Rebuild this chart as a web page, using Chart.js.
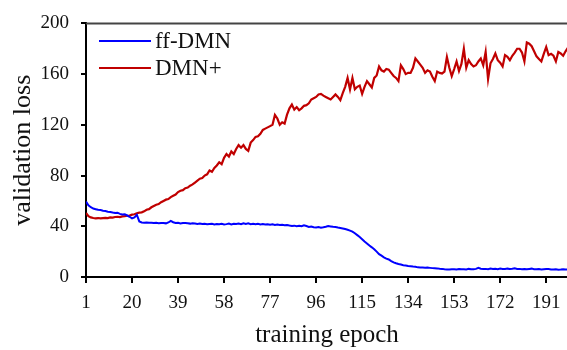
<!DOCTYPE html>
<html>
<head>
<meta charset="utf-8">
<script src="https://cdn.jsdelivr.net/npm/chart.js@4"></script>
<style>
html,body{margin:0;padding:0;background:#fff;overflow:hidden;width:567px;height:350px;}
canvas{display:block;}
</style>
</head>
<body>
<canvas id="c" width="575" height="360"></canvas>
<script>
const epochs = Array.from({length: 200}, (_, i) => i + 1);
const xTickValues = [1, 20, 39, 58, 77, 96, 115, 134, 153, 172, 191];
const yTickValues = [0, 40, 80, 120, 160, 200];
const seriesNames = ["ff-DMN", "DMN+"];

const ffDMN = [
59.5,56.5,55,54,53.5,53,52.8,52.2,52,51.5,
51.3,50.8,50.5,50.7,49.8,49.3,49.5,48.5,47.5,46.2,
47,49,43.8,43,42.8,43,42.7,42.8,42.5,42.7,
42.4,42.6,42.5,42.3,43,44.3,43.2,42.6,42.8,42.2,
42.6,42.5,42.3,42.1,42.4,42.2,41.9,42.1,41.8,41.9,
41.6,41.8,42,41.5,41.8,41.6,41.9,41.5,41.7,42.2,
41.5,42,41.8,42.1,41.6,42.4,41.8,42.3,41.7,41.9,
41.6,42,41.5,41.7,41.4,41.6,41.2,41.5,41,41.3,
41,41.2,40.8,41,40.6,40.3,40.5,40.1,40.4,40,
40.8,40.2,39.5,39.8,39.3,39.1,39.4,38.9,39.2,39.6,
40.2,39.9,39.6,39.4,39,38.7,38.3,37.8,37.3,36.6,
35.8,34.5,33,31.5,29.8,28,26.5,24.8,23.4,21.8,
20,18,16.8,15.5,14.5,13.8,12.5,11.5,10.8,10.2,
9.8,9.3,9,8.7,8.5,8.2,8,7.6,7.5,7.4,
7.3,7.4,7.2,7,6.9,6.8,6.5,6.4,6.1,6,
6,6.2,6.1,6,6.3,6.1,6.2,6,6.4,6.2,
6.1,6.4,7.2,6.5,6.3,6.4,6.1,6.6,6.3,6.5,
6.2,6.7,6.4,6.3,6.6,6.4,6.5,6.8,6.3,6.4,
6.1,6.3,6.2,6.4,6.6,6.2,6.1,6.3,6,6.2,
6.4,6.3,6,5.9,6.1,5.8,5.9,6.1,5.9,6
];

const dmnPlus = [
50.5,48,47,46.5,46.3,46.5,46.2,46.4,46.6,46.5,
47,46.8,47.3,47.5,47.2,47.8,48,48.3,48.5,49.2,
49.5,50.3,50.8,51,51.8,53,53.5,55,56,57,
57.5,59,60,61,61.5,63,64,65,67,68,
68.5,70,70.5,72,73,74.5,76,77.5,78,80,
81,84,83,86,88,90.5,89,94,97,95,
99,97,101,104,102,104,101,99.5,106,108,
110.5,111,113,116,117,118,119,120,127.8,125,
120,122,121,128,133,136,132,134,131.5,133,
135,135.5,137,140,141,142,144,144.4,143,142,
141,140,142,144,142,139.5,145,150,157,148,
157,148,150,151,144.5,150,154.5,152,149.5,157,
159,166,163,162,164,163.5,161,158.5,157,154.5,
167,164,160,161,161,165,172.4,170,167.5,165,
161,163,162,158,154.5,162,161,160.5,162,173.5,
165,158.5,164,170,162.5,168,180,165,171,168,
166,167,170,172.4,167,177.5,156,168.5,172,176.3,
171,169,166,175,173.7,171,174.5,177,180,180,
177,170,185,184,182,178,174,172,170,176,
181.4,175,176,174.5,170,177.5,176.3,174.5,178,181
];

const seriesColors = ["#0000FF", "#C00000"];
const FONT = "'Liberation Serif', 'Times New Roman', serif";

const legendInside = {
  id: 'legendInside',
  afterDraw(chart) {
    const ctx = chart.ctx;
    ctx.save();
    chart.data.datasets.forEach((ds, i) => {
      const y = 41 + i * 27;
      ctx.strokeStyle = ds.borderColor;
      ctx.lineWidth = 2;
      ctx.beginPath();
      ctx.moveTo(99, y);
      ctx.lineTo(151, y);
      ctx.stroke();
      ctx.fillStyle = '#111';
      ctx.font = "23px " + FONT;
      ctx.textBaseline = 'middle';
      ctx.textAlign = 'left';
      ctx.fillText(ds.label, 155, y + 1);
    });
    ctx.restore();
  }
};

const topBorder = {
  id: 'topBorder',
  afterDraw(chart) {
    const {ctx, chartArea} = chart;
    ctx.save();
    ctx.strokeStyle = '#444';
    ctx.lineWidth = 2;
    ctx.beginPath();
    ctx.moveTo(chartArea.left, chartArea.top);
    ctx.lineTo(chartArea.right, chartArea.top);
    ctx.lineTo(chartArea.right, chartArea.bottom);
    ctx.stroke();
    ctx.restore();
  }
};

new Chart(document.getElementById('c'), {
  type: 'line',
  data: {
    datasets: [
      {
        label: seriesNames[0],
        data: epochs.map((e, i) => ({x: e, y: ffDMN[i]})),
        borderColor: seriesColors[0],
        borderWidth: 2,
        pointRadius: 0,
        tension: 0,
        fill: false
      },
      {
        label: seriesNames[1],
        data: epochs.map((e, i) => ({x: e, y: dmnPlus[i]})),
        borderColor: seriesColors[1],
        borderWidth: 2.2,
        pointRadius: 0,
        tension: 0,
        fill: false
      }
    ]
  },
  options: {
    responsive: false,
    animation: false,
    events: [],
    layout: {padding: {top: 15, right: 7, left: 0, bottom: 0}},
    plugins: {legend: {display: false}, tooltip: {enabled: false}},
    scales: {
      x: {
        type: 'linear',
        min: 1,
        max: 200,
        afterBuildTicks: s => { s.ticks = xTickValues.map(v => ({value: v})); },
        afterFit: s => { s.height = 83; },
        ticks: {
          autoSkip: false,
          maxRotation: 0,
          padding: 9,
          color: '#111',
          font: {family: FONT, size: 19}
        },
        grid: {drawOnChartArea: false, drawTicks: true, tickLength: 6, color: '#000', lineWidth: 2},
        border: {color: '#000', width: 2},
        title: {display: true, text: 'training epoch', color: '#111', font: {family: FONT, size: 25}, padding: {top: 0, bottom: 9.5}}
      },
      y: {
        min: 0,
        max: 200,
        afterBuildTicks: s => { s.ticks = yTickValues.map(v => ({value: v})); },
        afterFit: s => { s.width = 86; },
        ticks: {
          padding: 12,
          color: '#111',
          font: {family: FONT, size: 19}
        },
        grid: {drawOnChartArea: false, drawTicks: true, tickLength: 5, color: '#000', lineWidth: 2},
        border: {color: '#000', width: 2},
        title: {display: true, text: 'validation loss', color: '#111', font: {family: FONT, size: 26}, padding: {top: 8, bottom: 0}}
      }
    }
  },
  plugins: [legendInside, topBorder]
});
</script>
</body>
</html>
